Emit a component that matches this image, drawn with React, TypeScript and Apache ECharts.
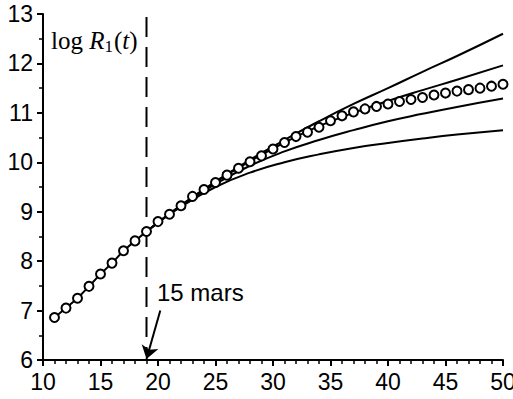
import React, { useEffect, useRef } from "react";
import * as echarts from "echarts";

const days = [11, 12, 13, 14, 15, 16, 17, 18, 19, 20, 21, 22, 23, 24, 25, 26, 27, 28, 29, 30, 31, 32, 33, 34, 35, 36, 37, 38, 39, 40, 41, 42, 43, 44, 45, 46, 47, 48, 49, 50];
const observed = [6.86, 7.05, 7.25, 7.49, 7.74, 7.96, 8.21, 8.41, 8.6, 8.8, 8.95, 9.12, 9.31, 9.45, 9.59, 9.74, 9.88, 10.01, 10.13, 10.27, 10.4, 10.52, 10.61, 10.71, 10.84, 10.94, 11.02, 11.08, 11.13, 11.18, 11.23, 11.27, 11.31, 11.36, 11.4, 11.44, 11.47, 11.5, 11.54, 11.58];
const fitEndDay = 19;

const curveDays = [19, 22, 25, 28, 31, 34, 37, 40, 43, 46, 50];
const curveA = [8.6, 9.13, 9.61, 10.05, 10.45, 10.83, 11.18, 11.5, 11.83, 12.15, 12.6];
const curveB = [8.6, 9.13, 9.6, 10.02, 10.4, 10.73, 11.0, 11.24, 11.46, 11.67, 11.96];
const curveC = [8.6, 9.12, 9.56, 9.93, 10.22, 10.45, 10.65, 10.83, 10.98, 11.12, 11.29];
const curveD = [8.6, 9.1, 9.5, 9.79, 10.0, 10.16, 10.29, 10.39, 10.48, 10.56, 10.65];

const dashX = [19, 19];
const dashY = [12.94, 6.15];
const arrowFrom = [20.2, 7.0];
const arrowTo = [19.0, 6.02];

const xTicks = [10, 15, 20, 25, 30, 35, 40, 45, 50];
const yTicks = [6, 7, 8, 9, 10, 11, 12, 13];

const annotation = "15 mars";

export default function App() {
  const ref = useRef<HTMLDivElement>(null);
  useEffect(() => {
    if (!ref.current) return;
    const chart = echarts.init(ref.current, undefined, { renderer: "svg" });
    const sans = "Liberation Sans, Arial, Helvetica, sans-serif";
    const serif = "Liberation Serif, Times New Roman, serif";
    const pair = (xs: number[], ys: number[]) => xs.map((x, i) => [x, ys[i]]);
    const fitPts = pair(days, observed).filter((p) => p[0] <= fitEndDay);
    const curveStyle = { color: "#000", width: 2 };
    const mkCurve = (ys: number[]) => ({
      type: "line",
      data: pair(curveDays, ys),
      smooth: true,
      showSymbol: false,
      lineStyle: curveStyle,
      z: 2,
    });
    chart.setOption({
      animation: false,
      backgroundColor: "#fff",
      grid: { left: 43, right: 10, top: 14, bottom: 39, containLabel: false, outerBoundsMode: "none" },
      xAxis: {
        type: "value",
        min: xTicks[0],
        max: xTicks[xTicks.length - 1],
        interval: 5,
        axisLine: { show: true, onZero: false, lineStyle: { color: "#000", width: 2 } },
        axisTick: { show: true, length: 6, lineStyle: { color: "#000", width: 2 } },
        minorTick: { show: true, splitNumber: 5, length: 4, lineStyle: { color: "#000", width: 1.5 } },
        splitLine: { show: false },
        axisLabel: { color: "#000", fontFamily: sans, fontSize: 23, margin: 10, hideOverlap: false },
      },
      yAxis: {
        type: "value",
        min: yTicks[0],
        max: yTicks[yTicks.length - 1],
        interval: 1,
        axisLine: { show: true, onZero: false, lineStyle: { color: "#000", width: 2 } },
        axisTick: { show: true, length: 6, lineStyle: { color: "#000", width: 2 } },
        minorTick: { show: true, splitNumber: 2, length: 4, lineStyle: { color: "#000", width: 1.5 } },
        splitLine: { show: false },
        axisLabel: { color: "#000", fontFamily: sans, fontSize: 23, margin: 10 },
      },
      series: [
        {
          type: "line",
          data: pair(dashX, dashY),
          showSymbol: false,
          lineStyle: { color: "#000", width: 2, type: [20, 10] },
          z: 1,
        },
        mkCurve(curveA),
        mkCurve(curveB),
        mkCurve(curveC),
        mkCurve(curveD),
        {
          type: "line",
          data: fitPts,
          showSymbol: false,
          lineStyle: curveStyle,
          z: 2,
        },
        {
          type: "scatter",
          data: pair(days, observed),
          symbol: "circle",
          symbolSize: 9,
          itemStyle: { color: "#fff", borderColor: "#000", borderWidth: 2, opacity: 1 },
          z: 5,
        },
        {
          type: "lines",
          coordinateSystem: "cartesian2d",
          data: [{ coords: [arrowFrom, arrowTo] }],
          symbol: ["none", "arrow"],
          symbolSize: [7, 13],
          lineStyle: { color: "#000", width: 2, opacity: 1 },
          z: 6,
        },
      ],
      graphic: [
        {
          type: "text",
          left: 157,
          top: 280,
          style: { text: annotation, fill: "#000", font: `24px ${sans}` },
        },
        {
          type: "text",
          left: 51,
          top: 28,
          style: {
            text: "{n|log }{i|R}{s|1}{n|(}{i|t}{n|)}",
            fill: "#000",
            rich: {
              n: { fontFamily: serif, fontSize: 25, fill: "#000" },
              i: { fontFamily: serif, fontSize: 25, fontStyle: "italic", fill: "#000" },
              s: { fontFamily: serif, fontSize: 17, fill: "#000", padding: [11, 1, 0, 0] },
            },
          },
        },
      ],
    });
    return () => chart.dispose();
  }, []);
  return <div ref={ref} style={{ position: "fixed", left: 0, top: 0, width: 513, height: 399 }} />;
}
